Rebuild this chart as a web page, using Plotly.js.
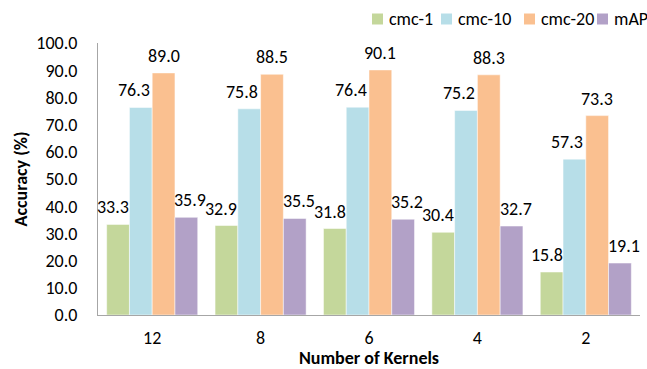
<!DOCTYPE html>
<html>
<head>
<meta charset="utf-8">
<script src="https://cdn.plot.ly/plotly-3.0.1.min.js"></script>
<style>html,body{margin:0;padding:0;background:#fff;}#chart{width:647px;height:369px;}</style>
</head>
<body>
<div id="chart"></div>
<script>
// Kernel counts on the x axis
const kernels = ['12', '8', '6', '4', '2'];
// Accuracy per metric (%)
const cmc1 = [33.3, 32.9, 31.8, 30.4, 15.8];
const cmc10 = [76.3, 75.8, 76.4, 75.2, 57.3];
const cmc20 = [89.0, 88.5, 90.1, 88.3, 73.3];
const mAP = [35.9, 35.5, 35.2, 32.7, 19.1];
const seriesNames = ['cmc-1', 'cmc-10', 'cmc-20', 'mAP'];
const yTicks = [0, 10, 20, 30, 40, 50, 60, 70, 80, 90, 100];

// ---- styling ----
const font = 'Carlito, Calibri, "Liberation Sans", Arial, sans-serif';
const colors = ['#C4D79B', '#B7DEE8', '#FAC090', '#B2A1C7'];
const W = 647, H = 369;
const M = {l: 98, r: 7, t: 43, b: 54};
const BARGAP = 0.16;
const plotW = W - M.l - M.r, plotH = H - M.t - M.b;
const barPx = plotW / kernels.length * (1 - BARGAP) / seriesNames.length;
// value labels are nudged sideways so they clear the neighbouring bars
const labelNudge = [-5, -7, 0, 4];
// legend layout (pixels from the left / top of the page)
const legendSwatchLeft = [372, 441, 524, 597];
const legendMidY = 19, swatch = 11, swatchTextGap = 5;

const values = [cmc1, cmc10, cmc20, mAP];

const data = values.map((v, i) => ({
  type: 'bar', name: seriesNames[i], x: kernels, y: v,
  marker: {color: colors[i], line: {color: '#ffffff', width: 0.5}},
  hoverinfo: 'none'
}));

// value labels above each bar (x given as the category's position on the axis)
const annotations = [];
values.forEach((v, i) => {
  const offset = (i - (seriesNames.length - 1) / 2) * barPx + labelNudge[i];
  v.forEach((val, j) => {
    annotations.push({
      xref: 'x', yref: 'y', x: kernels.indexOf(kernels[j]), y: val,
      text: val.toFixed(1), showarrow: false,
      xanchor: 'center', yanchor: 'bottom', xshift: offset, yshift: 4,
      font: {family: font, size: 18, color: '#000'}
    });
  });
});

// legend row across the top right
const px2paperX = px => (px - M.l) / plotW;
const px2paperY = py => (H - M.b - py) / plotH;
const shapes = [];
seriesNames.forEach((name, i) => {
  const left = legendSwatchLeft[i];
  shapes.push({
    type: 'rect', xref: 'paper', yref: 'paper',
    xsizemode: 'pixel', ysizemode: 'pixel',
    xanchor: px2paperX(left), yanchor: px2paperY(legendMidY),
    x0: 0, x1: swatch, y0: -swatch / 2, y1: swatch / 2,
    fillcolor: colors[i], line: {width: 0}
  });
  annotations.push({
    xref: 'paper', yref: 'paper',
    x: px2paperX(left + swatch + swatchTextGap - 1), y: px2paperY(legendMidY),
    xanchor: 'left', yanchor: 'middle', text: name, showarrow: false,
    font: {family: font, size: 18, color: '#000'}
  });
});

const layout = {
  width: W, height: H,
  margin: Object.assign({autoexpand: false}, M),
  paper_bgcolor: '#fff', plot_bgcolor: '#fff',
  barmode: 'group', bargap: BARGAP, bargroupgap: 0,
  font: {family: font, size: 18, color: '#000'},
  showlegend: false,
  annotations: annotations,
  shapes: shapes,
  xaxis: {
    type: 'category', range: [-0.5, kernels.length - 0.5],
    showline: true, linecolor: '#A6A6A6', linewidth: 1,
    ticks: '', tickfont: {family: font, size: 18}, ticklabelstandoff: 6, automargin: false,
    title: {text: '<b>Number of Kernels</b>', font: {family: font, size: 18}, standoff: 5}
  },
  yaxis: {
    range: [0, 100], tickvals: yTicks, ticktext: yTicks.map(v => v.toFixed(1)),
    showgrid: false, zeroline: false, showline: true, linecolor: '#A6A6A6', linewidth: 1,
    ticks: '', tickfont: {family: font, size: 18}, ticklabelstandoff: 16, automargin: false,
    title: {text: '<b>Accuracy (%)</b>', font: {family: font, size: 18}, standoff: 4}
  }
};

Plotly.newPlot('chart', data, layout, {displayModeBar: false, staticPlot: true});
</script>
</body>
</html>
